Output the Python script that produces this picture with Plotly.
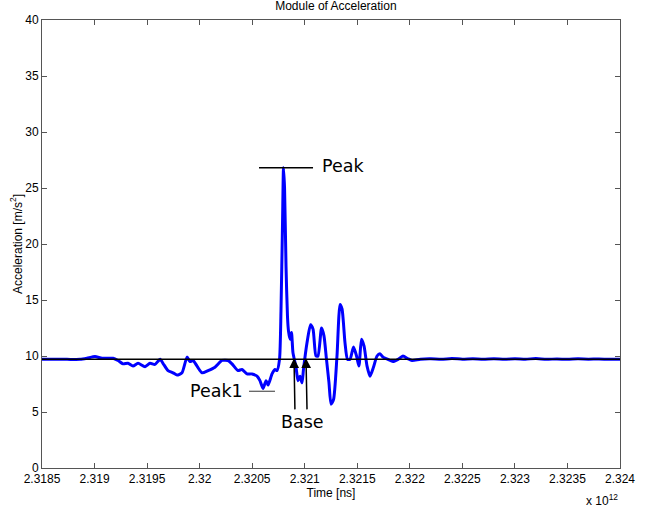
import plotly.graph_objects as go

# Time in units of 1e12 ns (axis shows "x 10^12")
time_vals = [
    2.318500, 2.318595, 2.318738, 2.318862, 2.318928, 2.319004, 2.319071, 2.319176,
    2.319223, 2.319271, 2.319318, 2.319366, 2.319414, 2.319480, 2.319528, 2.319575,
    2.319623, 2.319661, 2.319699, 2.319747, 2.319785, 2.319832, 2.319880, 2.319908,
    2.319937, 2.319975, 2.320023, 2.320080, 2.320146, 2.320213, 2.320270, 2.320308,
    2.320365, 2.320403, 2.320451, 2.320498, 2.320546, 2.320574, 2.320603, 2.320632,
    2.320651, 2.320689, 2.320717, 2.320736, 2.320760, 2.320774, 2.320789, 2.320798,
    2.320808, 2.320822, 2.320836, 2.320846, 2.320860, 2.320874, 2.320888, 2.320917,
    2.320936, 2.320955, 2.320974, 2.320988, 2.321022, 2.321055, 2.321079, 2.321107,
    2.321126, 2.321160, 2.321183, 2.321207, 2.321231, 2.321250, 2.321274, 2.321307,
    2.321336, 2.321355, 2.321383, 2.321407, 2.321431, 2.321464, 2.321493, 2.321516,
    2.321540, 2.321564, 2.321593, 2.321621, 2.321654, 2.321688, 2.321716, 2.321745,
    2.321792, 2.321840, 2.321888, 2.321935, 2.321983, 2.322021,
    2.32210, 2.32220, 2.32230, 2.32240, 2.32250, 2.32260, 2.32270, 2.32280,
    2.32290, 2.32300, 2.32310, 2.32320, 2.32330, 2.32340, 2.32350, 2.32360,
    2.32370, 2.32380, 2.32390, 2.32400,
]
accel_vals = [
    9.7, 9.7, 9.7, 9.7, 9.8, 9.95, 9.8, 9.8,
    9.6, 9.3, 9.35, 9.1, 9.35, 9.05, 9.35, 9.25,
    9.7, 9.2, 8.7, 8.5, 8.3, 8.5, 9.9, 9.5,
    9.6, 9.1, 8.5, 8.7, 9.0, 9.6, 9.6, 9.3,
    8.7, 8.8, 8.4, 8.4, 8.2, 7.8, 7.1, 7.8,
    7.4, 8.4, 8.8, 8.7, 9.7, 14.0, 22.0, 26.8,
    25.0, 18.0, 13.5, 12.2, 11.5, 12.1, 10.3, 9.0,
    7.8, 8.2, 7.6, 8.8, 11.2, 12.8, 12.4, 10.0,
    10.0, 12.5, 11.8, 9.7, 7.6, 5.7, 6.1, 10.0,
    14.6, 14.2, 11.2, 9.7, 9.7, 10.8, 10.0, 9.1,
    11.5, 10.9, 9.1, 8.2, 9.0, 10.0, 10.2, 9.9,
    9.7, 9.5, 9.7, 10.0, 9.75, 9.6,
    9.72, 9.75, 9.7, 9.78, 9.72, 9.75, 9.7, 9.76,
    9.7, 9.75, 9.72, 9.77, 9.7, 9.74, 9.7, 9.75,
    9.72, 9.74, 9.7, 9.72,
]

baseline_x = [2.3185, 2.3240]
baseline_y = [9.7, 9.7]

x_ticks = [2.3185, 2.3190, 2.3195, 2.3200, 2.3205, 2.3210, 2.3215, 2.3220,
           2.3225, 2.3230, 2.3235, 2.3240]
x_tick_labels = ["2.3185", "2.319", "2.3195", "2.32", "2.3205", "2.321", "2.3215",
                 "2.322", "2.3225", "2.323", "2.3235", "2.324"]
y_ticks = [0, 5, 10, 15, 20, 25, 30, 35, 40]

# annotation anchors (data units)
peak_line_x = [2.320565, 2.321079]
peak_level = 26.8
peak1_line_x = [2.320470, 2.320717]
peak1_level = 6.85
base_heads_x = [2.320898, 2.321012]
base_tails_x = [2.320907, 2.321022]
base_head_y = 9.8
base_tail_y = 5.1

fig = go.Figure()
fig.add_trace(go.Scatter(x=time_vals, y=accel_vals, mode="lines",
                         line=dict(color="#0000ff", width=3, shape="spline", smoothing=0.6),
                         showlegend=False, hoverinfo="skip"))
fig.add_trace(go.Scatter(x=baseline_x, y=baseline_y, mode="lines",
                         line=dict(color="black", width=1.5), showlegend=False))
fig.add_trace(go.Scatter(x=peak_line_x, y=[peak_level, peak_level], mode="lines",
                         line=dict(color="black", width=1.5), showlegend=False))
fig.add_trace(go.Scatter(x=peak1_line_x, y=[peak1_level, peak1_level], mode="lines",
                         line=dict(color="#555555", width=1.2), showlegend=False))

ann_font = dict(family="DejaVu Sans", size=17.5, color="black")
annotations = [
    dict(x=2.321150, y=27.0, text="Peak", showarrow=False, xanchor="left",
         yanchor="middle", font=ann_font),
    dict(x=2.320432, y=6.85, text="Peak1", showarrow=False, xanchor="right",
         yanchor="middle", font=ann_font),
    dict(x=2.320975, y=4.1, text="Base", showarrow=False, xanchor="center",
         yanchor="middle", font=ann_font),
    dict(x=1.0, y=-0.05, xref="paper", yref="paper", text="x 10<sup>12</sup>",
         showarrow=False, xanchor="right", yanchor="top",
         font=dict(family="Liberation Sans", size=12, color="black")),
]
for hx, tx in zip(base_heads_x, base_tails_x):
    annotations.append(dict(x=hx, y=base_head_y, ax=tx, ay=base_tail_y,
                            xref="x", yref="y", axref="x", ayref="y",
                            text="", showarrow=True, arrowhead=2, arrowsize=1.3,
                            arrowwidth=1.5, arrowcolor="black"))

fig.update_layout(
    width=646, height=512,
    margin=dict(l=42, r=26, t=20, b=44),
    paper_bgcolor="white", plot_bgcolor="white",
    font=dict(family="Liberation Sans", size=12, color="black"),
    title=dict(text="Module of Acceleration", x=0.52, xanchor="center",
               y=0.988, yanchor="middle", font=dict(size=12)),
    annotations=annotations,
    xaxis=dict(range=[2.3185, 2.3240], tickmode="array", tickvals=x_ticks,
               ticktext=x_tick_labels, ticks="inside", ticklen=5, tickcolor="#555",
               showline=True, linecolor="#555", linewidth=1, mirror="ticks",
               showgrid=False, zeroline=False, automargin=False,
               title=dict(text="Time [ns]", standoff=2, font=dict(size=12))),
    yaxis=dict(range=[0, 40], tickmode="array", tickvals=y_ticks,
               ticks="inside", ticklen=5, tickcolor="#555",
               showline=True, linecolor="#555", linewidth=1, mirror="ticks",
               showgrid=False, zeroline=False, automargin=False,
               title=dict(text="Acceleration [m/s<sup>2</sup>]", standoff=0,
                          font=dict(size=12))),
)

fig.write_html("out.html", config={"displayModeBar": False},
               post_script="document.body.style.margin='0';document.body.style.overflow='hidden';")
